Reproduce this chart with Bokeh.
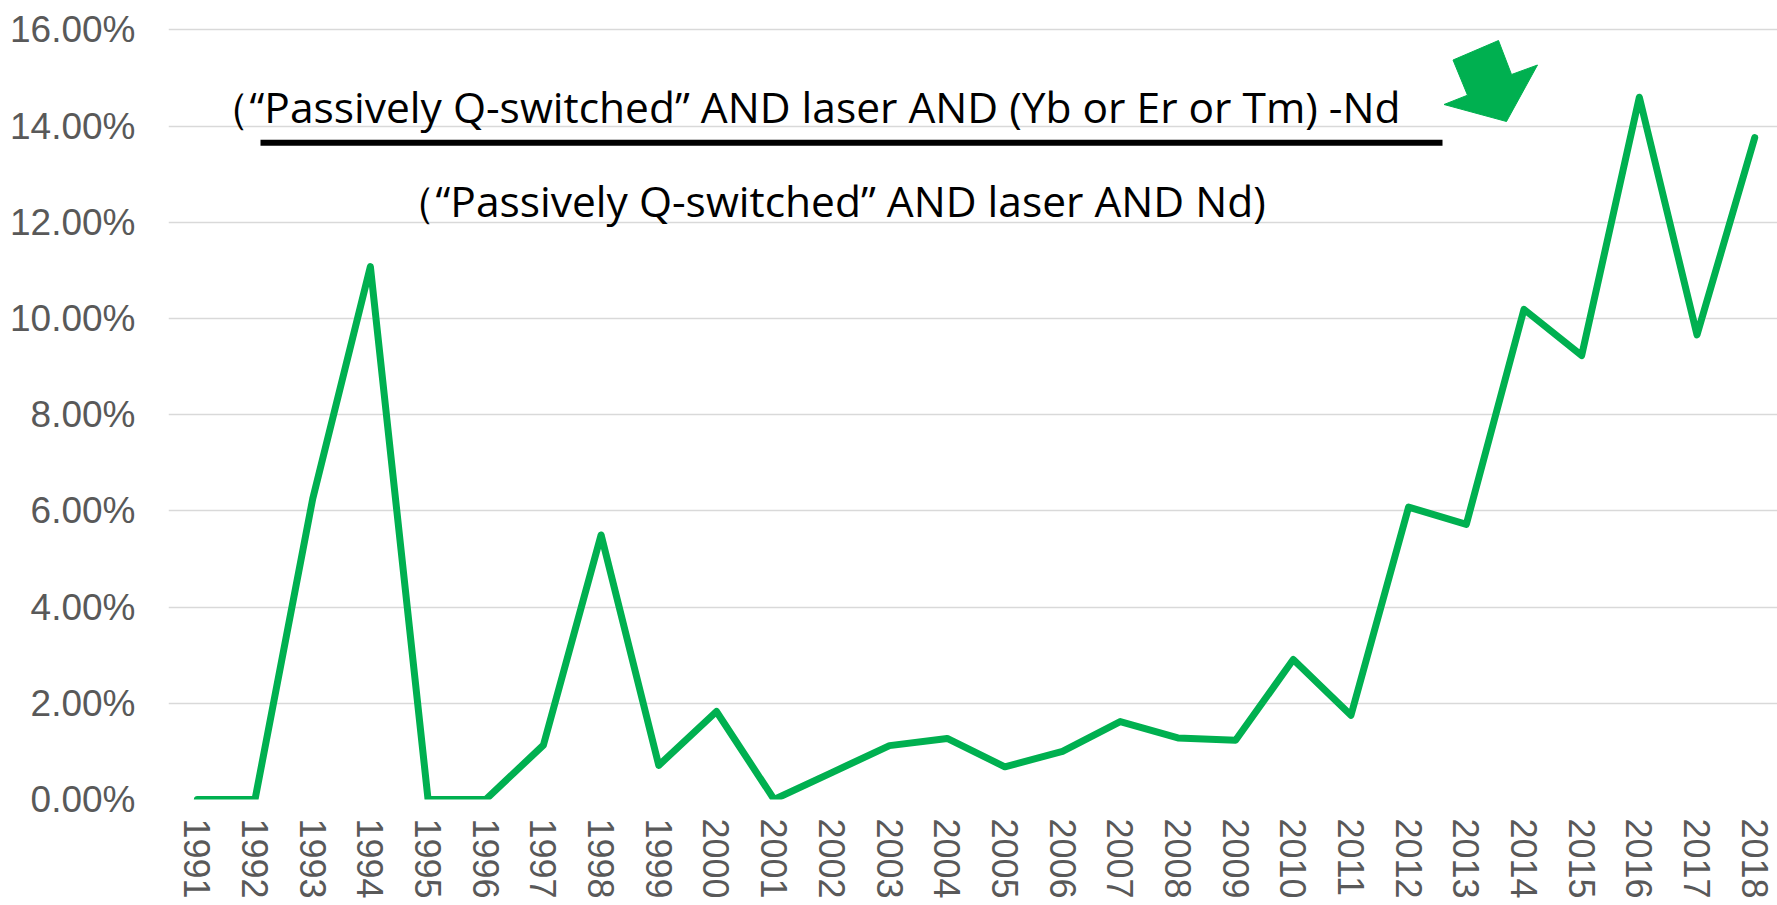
from bokeh.plotting import figure
from bokeh.models import FixedTicker, PrintfTickFormatter, Label
from bokeh.embed import file_html
from bokeh.resources import INLINE

# ---- data ----
years = list(range(1991, 2019))
share_pct = [0.0, 0.0, 6.25, 11.08, 0.0, 0.0, 1.13, 5.50, 0.71, 1.83,
             0.0, 0.56, 1.12, 1.27, 0.68, 1.00, 1.62, 1.28, 1.23, 2.91,
             1.75, 6.08, 5.72, 10.19, 9.23, 14.60, 9.66, 13.76]
y_ticks = [0, 2, 4, 6, 8, 10, 12, 14, 16]
x_tick_labels = {y: str(y) for y in years}

numerator_text = "（“Passively Q-switched” AND laser AND (Yb or Er or Tm) -Nd"
denominator_text = "（“Passively Q-switched” AND laser AND Nd)"

GREEN = "#00B050"
GREY = "#595959"

# ---- layout (page pixels -> data) ----
FRAME_LEFT_PX = 168.0
PX_PER_YEAR = 57.68
ZERO_PX = 799.0
PX_PER_PCT = 48.1

def dx(px):
    return (years[0] - 0.5) + (px - FRAME_LEFT_PX) / PX_PER_YEAR

def dy(py):
    return (ZERO_PX - py) / PX_PER_PCT

W, H = 1777, 905
p = figure(width=W, height=H, output_backend="svg", toolbar_location=None,
           x_range=(years[0] - 0.5, dx(W)), y_range=(0, dy(0)),
           min_border_left=int(FRAME_LEFT_PX), min_border_right=0, min_border_top=0,
           min_border_bottom=H - int(ZERO_PX))
p.outline_line_color = None
p.background_fill_color = "white"
p.border_fill_color = "white"

# axes
p.yaxis.ticker = FixedTicker(ticks=y_ticks)
p.yaxis.formatter = PrintfTickFormatter(format="%.2f%%")
p.xaxis.ticker = FixedTicker(ticks=years)
p.xaxis.major_label_overrides = x_tick_labels
p.xaxis.major_label_orientation = "vertical"
for ax in (p.xaxis[0], p.yaxis[0]):
    ax.axis_line_color = None
    ax.major_tick_line_color = None
    ax.minor_tick_line_color = None
    ax.major_tick_out = 0
    ax.major_tick_in = 0
    ax.major_label_text_font = "Liberation Sans"
    ax.major_label_text_color = GREY
p.yaxis.major_label_text_font_size = "37px"
p.xaxis.major_label_text_font_size = "36px"
p.yaxis.major_label_standoff = 33
p.xaxis.major_label_standoff = 19

p.xgrid.grid_line_color = None
p.ygrid.ticker = FixedTicker(ticks=y_ticks)
p.ygrid.grid_line_color = "#D9D9D9"
p.ygrid.grid_line_width = 1.5

# data line
p.line(years, share_pct, line_color=GREEN, line_width=7,
       line_join="round", line_cap="round")

# formula annotation
p.add_layout(Label(x=dx(206), y=dy(106), text=numerator_text,
                   text_font="Open Sans", text_font_size="42.5px", text_color="black",
                   text_align="left", text_baseline="alphabetic"))
p.add_layout(Label(x=dx(392), y=dy(199.5), text=denominator_text,
                   text_font="Open Sans", text_font_size="42.5px", text_color="black",
                   text_align="left", text_baseline="alphabetic"))
p.segment(x0=[dx(260)], y0=[dy(142.3)], x1=[dx(1442)], y1=[dy(142.3)],
          line_color="black", line_width=6)

# arrow
arrow_px = [(1498, 40), (1511, 74), (1537, 64.5), (1506, 121),
            (1443.5, 104), (1467, 94.7), (1452.5, 59.5)]
p.patch([dx(a) for a, b in arrow_px], [dy(b) for a, b in arrow_px],
        fill_color=GREEN, line_color=GREEN, line_width=1)

open("out.html", "w").write(file_html(p, INLINE))
